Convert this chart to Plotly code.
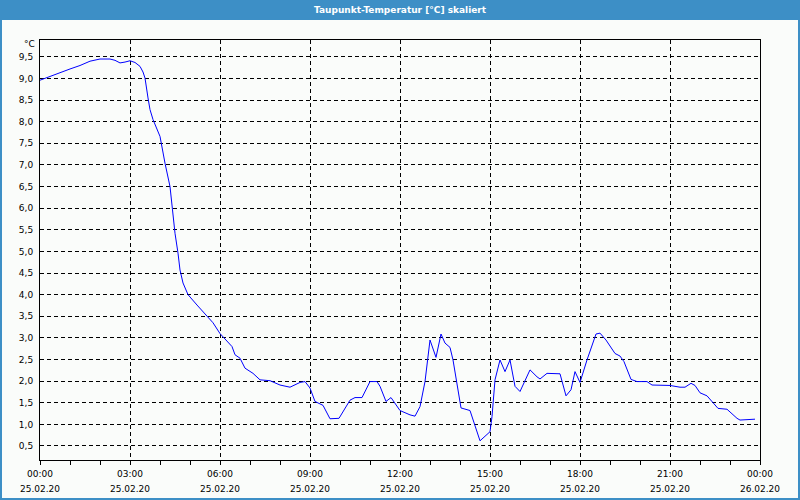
import plotly.graph_objects as go

# ---- data ----
times = ["00:00","00:20","00:40","01:00","01:20","01:40","02:00","02:20","02:30","02:40",
         "02:50","03:00","03:10","03:20","03:26","03:30","03:36","03:40","03:46","03:54",
         "04:00","04:10","04:20","04:25","04:30","04:36","04:40","04:46","04:56","05:14",
         "05:30","05:46","06:00","06:14","06:24","06:30","06:40","06:50","07:06","07:20",
         "07:40","08:00","08:20","08:40","08:50","09:00","09:10","09:26","09:40","09:58",
         "10:20","10:30","10:44","11:00","11:14","11:20","11:32","11:42","12:00","12:20",
         "12:30","12:40","12:50","13:00","13:12","13:22","13:30","13:40","13:46","14:02",
         "14:20","14:40","15:00","15:04","15:10","15:20","15:30","15:40","15:50","16:00",
         "16:20","16:34","16:40","16:54","17:10","17:20","17:32","17:42","17:50","18:00",
         "18:14","18:32","18:40","18:52","19:10","19:20","19:28","19:42","19:54","20:14",
         "20:24","20:44","21:00","21:20","21:30","21:42","21:50","22:00","22:14","22:36",
         "22:54","23:14","23:20","23:50"]
values = [8.96,9.05,9.13,9.22,9.30,9.40,9.45,9.45,9.42,9.36,
          9.38,9.41,9.37,9.28,9.15,9.01,8.55,8.28,8.05,7.85,
          7.66,7.04,6.50,5.96,5.42,4.96,4.57,4.27,4.00,3.76,
          3.55,3.35,3.10,2.92,2.80,2.61,2.53,2.30,2.18,2.03,
          2.01,1.91,1.86,1.97,1.99,1.84,1.53,1.44,1.13,1.14,
          1.56,1.62,1.62,1.99,1.99,1.88,1.53,1.62,1.32,1.22,
          1.19,1.41,1.99,2.95,2.55,3.09,2.88,2.78,2.49,1.38,
          1.32,0.62,0.83,1.18,2.03,2.49,2.22,2.49,1.88,1.76,
          2.26,2.10,2.05,2.18,2.17,2.17,1.66,1.80,2.22,1.97,
          2.49,3.09,3.11,2.95,2.64,2.58,2.45,2.04,1.99,1.99,
          1.91,1.91,1.90,1.86,1.86,1.95,1.90,1.73,1.66,1.37,
          1.35,1.14,1.10,1.12]

x_tick_times = ["2020-02-25 00:00","2020-02-25 03:00","2020-02-25 06:00","2020-02-25 09:00",
                "2020-02-25 12:00","2020-02-25 15:00","2020-02-25 18:00","2020-02-25 21:00",
                "2020-02-26 00:00"]
x_tick_hours = ["00:00","03:00","06:00","09:00","12:00","15:00","18:00","21:00","00:00"]
x_tick_dates = ["25.02.20","25.02.20","25.02.20","25.02.20","25.02.20",
                "25.02.20","25.02.20","25.02.20","26.02.20"]
y_tick_vals = [0.5,1.0,1.5,2.0,2.5,3.0,3.5,4.0,4.5,5.0,5.5,6.0,6.5,7.0,7.5,8.0,8.5,9.0,9.5]
y_tick_text = [f"{v:.1f}".replace(".", ",") for v in y_tick_vals]

title_text = "Taupunkt-Temperatur [°C] skaliert"
unit_text = "°C"

xs = ["2020-02-25 " + t for t in times]
x_range = ["2020-02-25 00:00", "2020-02-26 00:00"]

W, H = 800, 500
L, R, T, B = 40, 40, 40, 40
pw, ph = W - L - R, H - T - B

def px_x(px):
    return (px - L) / pw

def px_y(py):
    return 1 - (py - T) / ph

FONT = "DejaVu Sans"
BLUE = "#3d8fc6"
BG = "#fafcfa"

fig = go.Figure()
fig.add_trace(go.Scatter(x=xs, y=values, mode="lines",
                         line=dict(color="#0000ff", width=1), hoverinfo="skip",
                         showlegend=False))
# invisible helper trace so the second (date) axis row is rendered
fig.add_trace(go.Scatter(x=x_range, y=[values[0], values[0]], xaxis="x2", mode="lines",
                         line=dict(width=0), opacity=0, hoverinfo="skip",
                         showlegend=False))

fig.update_layout(
    width=W, height=H,
    margin=dict(l=L, r=R, t=T, b=B, autoexpand=False),
    paper_bgcolor=BG,
    plot_bgcolor=BG,
    font=dict(family=FONT, size=9, color="#000000"),
    showlegend=False,
)

fig.update_layout(
    xaxis=dict(
        type="date", range=x_range, automargin=False,
        tickvals=x_tick_times, ticktext=x_tick_hours,
        showgrid=True, gridcolor="#000000", gridwidth=1, griddash="4px,3px",
        showline=True, linecolor="#000000", linewidth=1, mirror=True,
        ticks="outside", ticklen=4, tickcolor="#000000",
        minor=dict(dtick=3600000, ticks="outside", ticklen=4, tickcolor="#000000", showgrid=False),
        zeroline=False, ticklabelstandoff=1,
        tickfont=dict(family=FONT, size=9),
    ),
    xaxis2=dict(
        type="date", range=x_range, overlaying="x", side="bottom", anchor="y",
        automargin=False,
        tickvals=x_tick_times, ticktext=x_tick_dates,
        showgrid=False, showline=False, ticks="", zeroline=False,
        ticklabelstandoff=22,
        tickfont=dict(family=FONT, size=9),
    ),
    yaxis=dict(
        range=[0.176, 9.89], automargin=False,
        tickvals=y_tick_vals, ticktext=y_tick_text,
        showgrid=True, gridcolor="#000000", gridwidth=1, griddash="4px,3px",
        showline=True, linecolor="#000000", linewidth=1, mirror=True,
        ticks="", ticklabelstandoff=4,
        zeroline=False,
        tickfont=dict(family=FONT, size=9),
    ),
)

# title bar and frame
fig.add_shape(type="rect", xref="paper", yref="paper",
              x0=px_x(0), x1=px_x(W), y0=px_y(20), y1=px_y(0),
              fillcolor=BLUE, line=dict(width=0), layer="below")
fig.add_shape(type="rect", xref="paper", yref="paper",
              x0=px_x(1), x1=px_x(W - 1), y0=px_y(H - 1), y1=px_y(19),
              fillcolor="rgba(0,0,0,0)", line=dict(color=BLUE, width=2))

fig.add_annotation(text="<b>" + title_text + "</b>", xref="paper", yref="paper",
                   x=0.5, y=px_y(10), xanchor="center", yanchor="middle",
                   showarrow=False, font=dict(family=FONT, size=9, color="#ffffff"))
fig.add_annotation(text=unit_text, xref="paper", yref="paper",
                   x=px_x(37), y=px_y(44), xanchor="right", yanchor="middle",
                   showarrow=False, font=dict(family=FONT, size=9, color="#000000"))

fig.write_html("out.html")
